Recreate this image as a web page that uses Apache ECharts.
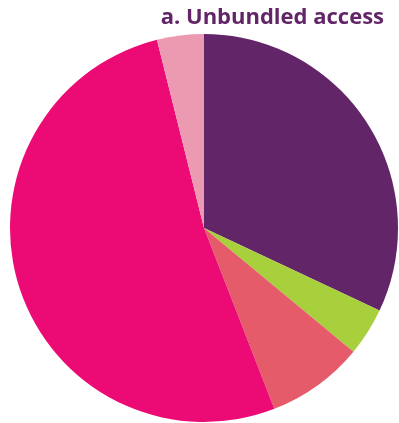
<!DOCTYPE html>
<html>
<head>
<meta charset="utf-8">
<script src="https://cdn.jsdelivr.net/npm/echarts@6/dist/echarts.min.js"></script>
<style>
  html, body { margin: 0; padding: 0; background: #fff; }
  #chart { width: 399px; height: 423px; }
</style>
</head>
<body>
<div id="chart"></div>
<script>
// Share of unbundled access by segment, clockwise from 12 o'clock
const segments = ['A', 'B', 'C', 'D', 'E'];
const shares = [32.0, 4.0, 8.1, 52.0, 3.9];
const colors = ['#622567', '#a8cf3c', '#e55b6a', '#ec0b74', '#ec9ab2'];

const chart = echarts.init(document.getElementById('chart'));
chart.setOption({
  animation: false,
  title: {
    text: 'a. Unbundled access',
    right: 10,
    top: 2,
    textStyle: {
      fontFamily: 'Open Sans',
      fontWeight: 'bold',
      fontSize: 22,
      color: '#622567'
    }
  },
  series: [{
    type: 'pie',
    center: [204, 228],
    radius: [0, 194],
    startAngle: 90,
    clockwise: true,
    label: { show: false },
    labelLine: { show: false },
    itemStyle: { borderWidth: 0 },
    data: segments.map((name, i) => ({
      name,
      value: shares[i],
      itemStyle: { color: colors[i] }
    }))
  }]
});
</script>
</body>
</html>
